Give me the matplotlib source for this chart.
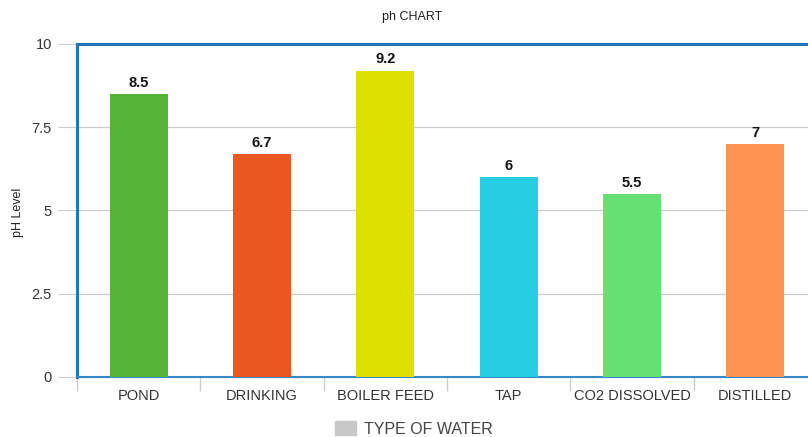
import matplotlib.pyplot as plt
from matplotlib.patches import Patch

plt.rcParams['font.family'] = ['Liberation Sans', 'DejaVu Sans']

# pH readings for each type of water
tipos = ['POND', 'DRINKING', 'BOILER FEED', 'TAP', 'CO2 DISSOLVED', 'DISTILLED']
ph = [8.5, 6.7, 9.2, 6, 5.5, 7]
colores = ['#55b436', '#ea581f', '#dde000', '#27cde3', '#66e070', '#ff9452']
etiquetas = ['8.5', '6.7', '9.2', '6', '5.5', '7']
y_ticks = [0, 2.5, 5, 7.5, 10]
y_ticklabels = ['0', '2.5', '5', '7.5', '10']

fig = plt.figure(figsize=(8.08, 4.37), dpi=100)
ax = fig.add_axes([77 / 808, 1 - 377 / 437, 740 / 808, 333 / 437])

x = range(len(tipos))
ax.bar(x, ph, width=0.47, color=colores, zorder=3)
for xi, v, t in zip(x, ph, etiquetas):
    ax.text(xi, v + 0.13, t, ha='center', va='bottom', fontsize=10.5,
            fontweight='bold', color='#111111', zorder=4)

ax.set_xlim(-0.5, len(tipos) - 0.5)
ax.set_ylim(0, 10)
ax.set_yticks(y_ticks)
ax.set_yticklabels(y_ticklabels)
ax.set_xticks(list(x))
ax.set_xticklabels(tipos)
ax.set_xticks([i - 0.5 for i in range(len(tipos) + 1)], minor=True)

ax.yaxis.grid(True, color='#cccccc', linewidth=0.9, zorder=0)
ax.tick_params(axis='y', length=14, color='#cccccc', labelsize=10.5,
               labelcolor='#333333', pad=4)
ax.tick_params(axis='x', which='major', length=0, labelsize=10.5,
               labelcolor='#333333', pad=9)
ax.tick_params(axis='x', which='minor', length=10, color='#cccccc', width=1)

for lado in ['left', 'top', 'right']:
    ax.spines[lado].set_color('#2277bb')
    ax.spines[lado].set_linewidth(2.2)
ax.spines['bottom'].set_color('#3388cc')
ax.spines['bottom'].set_linewidth(1.5)

fig.text(412 / 808, 1 - 17 / 437, 'ph CHART', ha='center', va='center',
         fontsize=9, color='#222222')
fig.text(18 / 808, 1 - 212 / 437, 'pH Level', ha='center', va='center',
         rotation=90, fontsize=9, color='#222222')

fig.legend(handles=[Patch(color='#c8c8c8', label='TYPE OF WATER')],
           loc='center', bbox_to_anchor=(414 / 808, 1 - 429 / 437),
           frameon=False, fontsize=11.5, handlelength=1.3, handleheight=0.9,
           handletextpad=0.55, labelcolor='#444444')

fig.savefig('out.png', dpi=100)
